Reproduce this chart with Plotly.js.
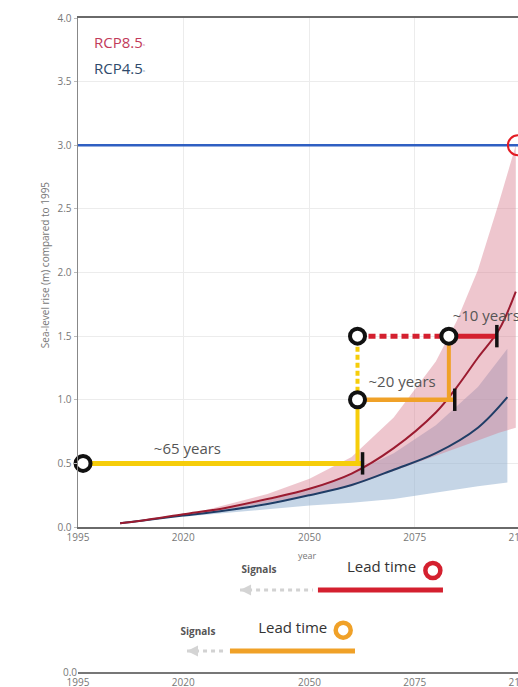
<!DOCTYPE html>
<html>
<head>
<meta charset="utf-8">
<script src="https://cdn.plot.ly/plotly-3.0.1.min.js"></script>
<style>
html,body{margin:0;padding:0;overflow:hidden;background:#fff;}
#chart{width:560px;height:687px;}
</style>
</head>
<body>
<div id="chart"></div>
<script>
// ---------- data ----------
const xTickVals = [1995, 2020, 2050, 2075, 2100];
const xTickText = ['1995', '2020', '2050', '2075', '2100'];
const yTickVals = [0, 0.5, 1, 1.5, 2, 2.5, 3, 3.5, 4];
const yTickText = ['0.0', '0.5', '1.0', '1.5', '2.0', '2.5', '3.0', '3.5', '4.0'];

// RCP8.5 median and likely range
const years85 = [2005, 2010, 2020, 2030, 2040, 2050, 2060, 2070, 2080, 2085, 2090, 2095, 2099];
const rcp85Median = [0.03, 0.05, 0.10, 0.15, 0.22, 0.30, 0.42, 0.62, 0.90, 1.10, 1.33, 1.55, 1.85];
const band85Years = [2025, 2040, 2050, 2060, 2070, 2080, 2085, 2090, 2095, 2099];
const rcp85Upper = [0.13, 0.26, 0.38, 0.55, 0.86, 1.30, 1.62, 2.02, 2.55, 3.00];
const rcp85Lower = [0.11, 0.19, 0.25, 0.32, 0.44, 0.56, 0.62, 0.68, 0.74, 0.78];

// RCP4.5 median and likely range
const years45 = [2005, 2010, 2020, 2030, 2040, 2050, 2060, 2070, 2080, 2090, 2097];
const rcp45Median = [0.03, 0.05, 0.09, 0.13, 0.18, 0.25, 0.33, 0.45, 0.58, 0.78, 1.02];
const band45Years = [2020, 2030, 2040, 2050, 2060, 2070, 2080, 2090, 2097];
const rcp45Upper = [0.10, 0.15, 0.21, 0.30, 0.42, 0.58, 0.80, 1.10, 1.40];
const rcp45Lower = [0.08, 0.11, 0.14, 0.17, 0.19, 0.22, 0.27, 0.32, 0.35];

// threshold
const thresholdLevel = 3.0;
const thresholdYears = [1995, 2100];
const thresholdHitYear = 2099.5;

// lead-time steps (year, level)
const yellowHorizYears = [1996.2, 2062.6];
const yellowLevel = 0.5;
const stepYear = 2061.4;
const yellowVertLevels = [0.5, 1.0];
const yellowDashLevels = [1.0, 1.5];
const orangeHorizYears = [2061.4, 2084.5];
const orangeLevel = 1.0;
const orangeVertYear = 2083.1;
const orangeVertLevels = [1.0, 1.5];
const redDashYears = [2061.4, 2083.1];
const redSolidYears = [2083.1, 2094.5];
const redLevel = 1.5;
const signalYears = [1996.2, 2061.4, 2061.4, 2083.1];
const signalLevels = [0.5, 1.0, 1.5, 1.5];
const crossYears = [2062.6, 2084.5, 2094.5];
const crossLevels = [0.5, 1.0, 1.5];
const leadLabels = ['~65 years', '~20 years', '~10 years'];
const leadLabelYears = [2021, 2072, 2084];
const leadLabelLevels = [0.6, 1.13, 1.65];

// bottom legend panel
const redLeadYears = [2052.0, 2081.7];
const redSignalYears = [2033.5, 2050.8];
const redRow = 0.646;
const orangeLeadYears = [2031.1, 2060.8];
const orangeSignalYears = [2020.9, 2030.2];
const orangeRow = 0.165;
const legendRingYears = [2079.3, 2058];
const legendRingRows = [0.80, 0.33];
const legendTextYears = [2067.1, 2046, 2038, 2023.5];
const legendTextRows = [0.82, 0.335, 0.80, 0.315];
const legendTexts = ['Lead time', 'Lead time', '<b>Signals</b>', '<b>Signals</b>'];

// ---------- colours ----------
const cRed85 = '#9b1b30', cBlue45 = '#1f3d66';
const cYellow = '#f6cd0a', cOrange = '#f0a128', cRed = '#d4202f';
const fnt = 'Open Sans, sans-serif';

const traces = [];
traces.push({x: band45Years.concat(band45Years.slice().reverse()),
  y: rcp45Upper.concat(rcp45Lower.slice().reverse()),
  type: 'scatter', mode: 'lines', fill: 'toself', fillcolor: 'rgba(140,172,205,0.5)',
  line: {width: 0}, hoverinfo: 'skip', showlegend: false});
traces.push({x: band85Years.concat(band85Years.slice().reverse()),
  y: rcp85Upper.concat(rcp85Lower.slice().reverse()),
  type: 'scatter', mode: 'lines', fill: 'toself', fillcolor: 'rgba(214,120,138,0.42)',
  line: {width: 0}, hoverinfo: 'skip', showlegend: false});
traces.push({x: thresholdYears, y: [thresholdLevel, thresholdLevel], mode: 'lines',
  line: {color: '#2f5fc2', width: 2.5}, showlegend: false});
traces.push({x: years45, y: rcp45Median, mode: 'lines', line: {color: cBlue45, width: 2, shape: 'spline'}, showlegend: false});
traces.push({x: years85, y: rcp85Median, mode: 'lines', line: {color: cRed85, width: 2, shape: 'spline'}, showlegend: false});

// step lines
traces.push({x: yellowHorizYears, y: [yellowLevel, yellowLevel], mode: 'lines', line: {color: cYellow, width: 5}, showlegend: false});
traces.push({x: [stepYear, stepYear], y: yellowVertLevels, mode: 'lines', line: {color: cYellow, width: 4}, showlegend: false});
traces.push({x: [stepYear, stepYear], y: yellowDashLevels, mode: 'lines', line: {color: cYellow, width: 4, dash: '5px,3px'}, showlegend: false});
traces.push({x: orangeHorizYears, y: [orangeLevel, orangeLevel], mode: 'lines', line: {color: cOrange, width: 4.5}, showlegend: false});
traces.push({x: [orangeVertYear, orangeVertYear], y: orangeVertLevels, mode: 'lines', line: {color: cOrange, width: 4}, showlegend: false});
traces.push({x: redDashYears, y: [redLevel, redLevel], mode: 'lines', line: {color: cRed, width: 5, dash: '7px,4px'}, showlegend: false});
traces.push({x: redSolidYears, y: [redLevel, redLevel], mode: 'lines', line: {color: cRed, width: 5}, showlegend: false});
traces.push({x: crossYears, y: crossLevels, mode: 'markers', cliponaxis: false,
  marker: {symbol: 'line-ns', size: 16, line: {color: '#111', width: 3.5}}, showlegend: false});
traces.push({x: signalYears, y: signalLevels, mode: 'markers', cliponaxis: false,
  marker: {symbol: 'circle', size: 15, color: '#fff', line: {color: '#111', width: 4}}, showlegend: false});
traces.push({x: [thresholdHitYear], y: [thresholdLevel], mode: 'markers', cliponaxis: false,
  marker: {symbol: 'circle-open', size: 20, color: '#e31b23', line: {width: 2}}, showlegend: false});
traces.push({x: leadLabelYears, y: leadLabelLevels, mode: 'text', text: leadLabels,
  textposition: ['middle center', 'middle center', 'middle right'], cliponaxis: false,
  textfont: {family: fnt, size: 15, color: '#555'}, showlegend: false});

// bottom panel
traces.push({x: redSignalYears, y: [redRow, redRow], xaxis: 'x2', yaxis: 'y2', mode: 'lines',
  line: {color: '#d2d2d2', width: 3, dash: '4px,4px'}, showlegend: false});
traces.push({x: [redSignalYears[0]], y: [redRow], xaxis: 'x2', yaxis: 'y2', mode: 'markers', cliponaxis: false,
  marker: {symbol: 'arrow-left', size: 11, color: '#d4d4d4'}, showlegend: false});
traces.push({x: redLeadYears, y: [redRow, redRow], xaxis: 'x2', yaxis: 'y2', mode: 'lines',
  line: {color: cRed, width: 5}, showlegend: false});
traces.push({x: orangeSignalYears, y: [orangeRow, orangeRow], xaxis: 'x2', yaxis: 'y2', mode: 'lines',
  line: {color: '#d2d2d2', width: 3, dash: '4px,4px'}, showlegend: false});
traces.push({x: [orangeSignalYears[0]], y: [orangeRow], xaxis: 'x2', yaxis: 'y2', mode: 'markers', cliponaxis: false,
  marker: {symbol: 'arrow-left', size: 11, color: '#d4d4d4'}, showlegend: false});
traces.push({x: orangeLeadYears, y: [orangeRow, orangeRow], xaxis: 'x2', yaxis: 'y2', mode: 'lines',
  line: {color: cOrange, width: 5}, showlegend: false});
traces.push({x: legendRingYears, y: legendRingRows, xaxis: 'x2', yaxis: 'y2', mode: 'markers', cliponaxis: false,
  marker: {symbol: 'circle', size: 15, color: '#fff', line: {color: [cRed, cOrange], width: 4.5}}, showlegend: false});
traces.push({x: legendTextYears, y: legendTextRows, xaxis: 'x2', yaxis: 'y2',
  mode: 'text', text: legendTexts, cliponaxis: false,
  textfont: {family: fnt, size: [15, 15, 10, 10], color: ['#333', '#333', '#555', '#555']},
  showlegend: false});

const axisFont = {family: fnt, size: 10, color: '#777'};
const layout = {
  width: 560, height: 687,
  margin: {l: 78, r: 40, t: 18, b: 15},
  paper_bgcolor: '#fff', plot_bgcolor: '#fff',
  showlegend: false,
  xaxis: {domain: [0, 1], anchor: 'y', range: [1995, 2100], tickvals: xTickVals, ticktext: xTickText,
    showline: true, linecolor: '#6a6a6a', linewidth: 2, mirror: true, showgrid: true, gridcolor: '#ececec',
    zeroline: false, ticks: '', tickfont: axisFont},
  yaxis: {domain: [0.2217, 1], anchor: 'x', range: [0, 4], tickvals: yTickVals, ticktext: yTickText,
    showline: true, linecolor: '#888', linewidth: 1.5, showgrid: true, gridcolor: '#ececec',
    zeroline: false, ticks: 'outside', ticklen: 3, tickcolor: '#bbb', tickfont: axisFont},
  xaxis2: {domain: [0, 1], anchor: 'y2', range: [1995, 2100], tickvals: xTickVals, ticktext: xTickText,
    showline: true, linecolor: '#777', linewidth: 1.5, showgrid: false, zeroline: false, ticks: '', tickfont: axisFont},
  yaxis2: {domain: [0, 0.194], anchor: 'x2', range: [0, 1], tickvals: [0], ticktext: ['0.0'],
    showline: false, showgrid: false, zeroline: false, ticks: '', tickfont: axisFont},
  annotations: [
    {xref: 'paper', yref: 'paper', x: 0.032, y: 0.963, xanchor: 'left', yanchor: 'middle', showarrow: false,
      text: 'RCP8.5<span style="font-size:6px;color:#d9a0ad">ᵃ</span>', font: {family: fnt, size: 15, color: '#c23a5a'}},
    {xref: 'paper', yref: 'paper', x: 0.032, y: 0.924, xanchor: 'left', yanchor: 'middle', showarrow: false,
      text: 'RCP4.5<span style="font-size:6px;color:#9fb0c4">ᵃ</span>', font: {family: fnt, size: 15, color: '#2e4a6b'}},
    {xref: 'paper', yref: 'paper', x: -0.095, y: 0.622, textangle: -90, showarrow: false,
      text: 'Sea-level rise (m) compared to 1995', font: {family: fnt, size: 10, color: '#777'}},
    {xref: 'paper', yref: 'paper', x: 0.520, y: 0.178, yanchor: 'middle', showarrow: false,
      text: 'year', font: {family: fnt, size: 9, color: '#777'}}
  ]
};
Plotly.newPlot('chart', traces, layout, {displayModeBar: false, staticPlot: true});
</script>
</body>
</html>
